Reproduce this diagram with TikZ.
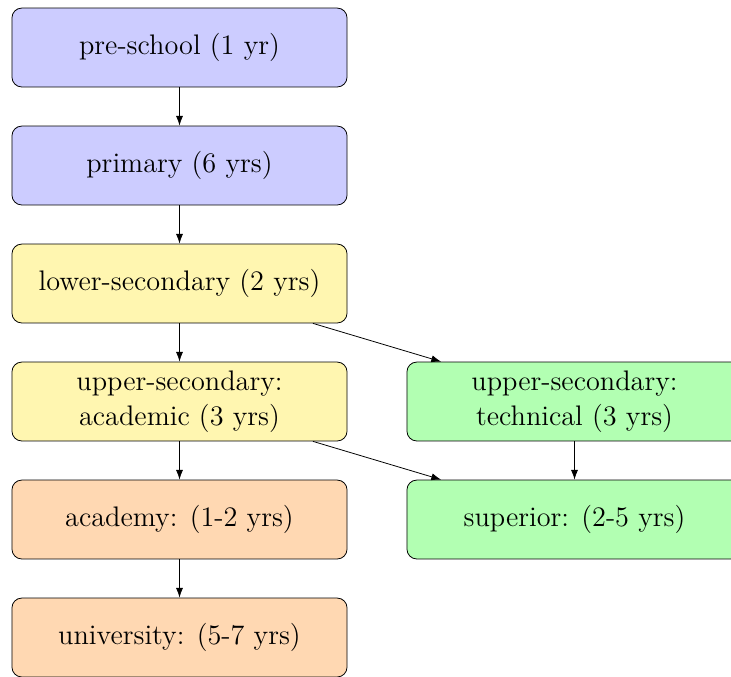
\documentclass[tikz,border=0pt]{standalone}
\usetikzlibrary{arrows.meta}
\definecolor{cblue}{RGB}{204,204,255}
\definecolor{cyellow}{RGB}{255,246,176}
\definecolor{cgreen}{RGB}{178,255,178}
\definecolor{corange}{RGB}{255,216,178}
\begin{document}
\begin{tikzpicture}[x=0.5094pt,y=-0.5094pt,
  box/.style={draw, rounded corners=5pt, minimum width=170.7pt, minimum height=40.2pt, align=center, font=\Large, inner sep=2pt},
  arr/.style={-{Latex[length=5pt,width=3.6pt]}}]
\useasboundingbox (0,0) rectangle (731,676);
\node[box, fill=cblue] (pre) at (179.5,47.5) {pre-school (1 yr)};
\node[box, fill=cblue] (pri) at (179.5,165.5) {primary (6 yrs)};
\node[box, fill=cyellow] (low) at (179.5,283.5) {lower-secondary (2 yrs)};
\node[box, fill=cyellow] (upa) at (179.5,401.5) {upper-secondary:\\academic (3 yrs)};
\node[box, fill=corange] (aca) at (179.5,519.5) {academy: (1-2 yrs)};
\node[box, fill=corange] (uni) at (179.5,637.5) {university: (5-7 yrs)};
\node[box, fill=cgreen] (upt) at (574.5,401.5) {upper-secondary:\\technical (3 yrs)};
\node[box, fill=cgreen] (sup) at (574.5,519.5) {superior: (2-5 yrs)};
\draw[arr] (pre) -- (pri);
\draw[arr] (pri) -- (low);
\draw[arr] (low) -- (upa);
\draw[arr] (low) -- (upt);
\draw[arr] (upa) -- (aca);
\draw[arr] (upa) -- (sup);
\draw[arr] (aca) -- (uni);
\draw[arr] (upt) -- (sup);
\end{tikzpicture}
\end{document}
